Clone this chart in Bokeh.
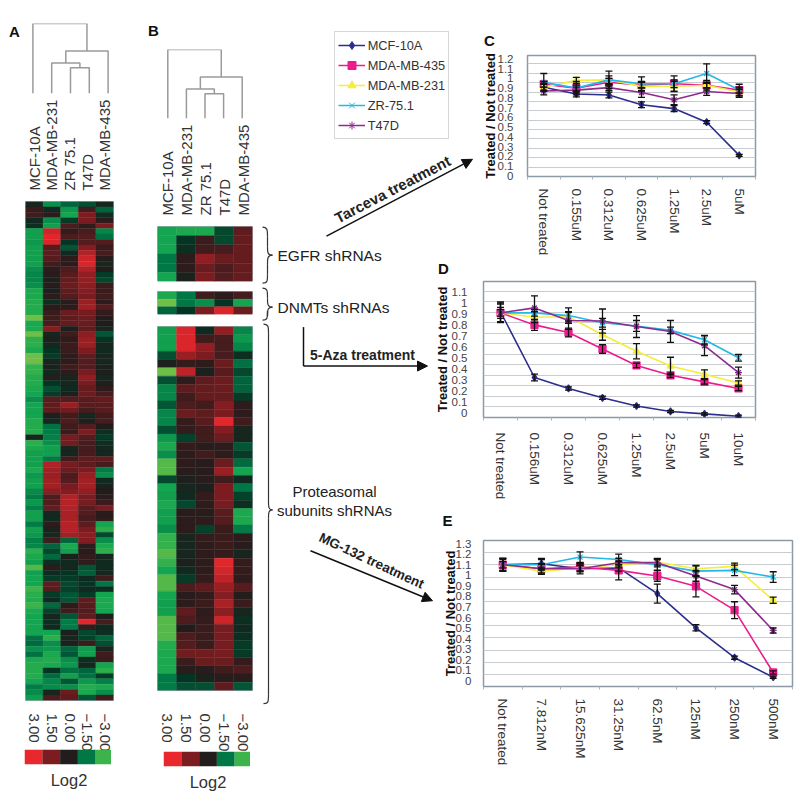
from bokeh.plotting import figure
from bokeh.models import (Column, Range1d, LinearAxis, FixedTicker, Grid, Whisker, TeeHead, Arrow, NormalHead,
                          ColumnDataSource, Legend, LegendItem, NumeralTickFormatter)
from bokeh.core.properties import value
from bokeh.embed import file_html
from bokeh.resources import INLINE

FONT = "Liberation Sans"
SAMPLES = ["MCF-10A", "MDA-MB-231", "ZR 75.1", "T47D", "MDA-MB-435"]
SCALE = ["3.00", "1.50", "0.00", "\u22121.50", "\u22123.00"]
SCALE_VALUES = [3, 1.5, 0, -1.5, -3]
LINKAGE_A = [26, 31, 43, 71]
LINKAGE_B = [25, 30, 42, 70]

HEAT_A = [
[-0.2,-2.0,-1.2,-0.9,-0.2],[0.4,-0.3,-2.2,0.5,-1.2],[0.5,0.1,-2.5,1.5,-0.4],[-0.3,-2.0,-0.6,1.5,0.2],
[-0.4,-2.4,0.7,0.2,1.5],[-2.4,2.6,0.3,0.6,-1.8],[-2.4,2.9,0.7,0.8,-1.4],[-2.2,2.8,-0.5,0.8,0.8],
[-2.4,0.8,-1.0,1.6,0.4],[-2.4,1.0,-0.3,2.2,0.6],[-2.4,0.9,0.2,2.6,0.1],[-2.4,0.5,0.1,2.8,-0.2],
[-2.0,0.2,0.7,2.2,0.0],[-1.8,0.1,0.9,1.8,-0.6],[-1.8,-0.1,1.1,1.8,-0.8],[-2.0,0.1,1.2,1.7,0.4],
[-2.6,-0.1,1.0,1.6,0.4],[-2.6,0.2,0.8,1.4,0.5],[-2.7,-0.4,0.1,1.9,0.2],[-2.7,0.1,0.2,2.0,0.8],
[-2.7,0.4,1.2,1.4,0.3],[-3.2,0.5,1.0,1.2,0.0],[-2.6,0.6,1.1,1.2,0.0],[-2.6,1.6,-0.1,1.0,-0.2],
[-3.2,-0.2,0.5,1.7,-1.0],[-2.8,-0.1,0.2,1.9,-0.5],[-2.8,-0.2,0.4,1.9,-0.2],[-2.6,-0.5,0.4,1.5,-0.3],
[-3.2,-0.6,0.2,1.0,-0.2],[-3.2,-0.2,0.2,0.8,-0.2],[-2.9,-0.1,0.5,0.8,-0.1],[-2.9,-0.3,0.2,1.4,-0.1],
[-2.7,0.1,-0.2,1.8,-0.2],[-2.7,-0.5,-0.2,1.4,-0.1],[-2.6,-0.9,-0.3,1.1,0.2],[-2.5,-0.6,-0.1,1.2,0.6],
[-2.0,0.9,0.8,0.9,1.1],[-2.5,1.0,1.9,0.9,0.9],[-2.5,1.0,1.3,0.6,0.9],[-2.5,-0.1,0.5,-0.2,0.5],
[-2.7,-0.2,0.7,-0.1,0.6],[-2.7,-1.4,0.5,0.8,0.0],[-2.7,-1.6,0.4,1.5,-0.4],[-0.2,-1.7,1.4,0.8,-0.6],
[-2.8,-2.0,1.3,0.6,-0.4],[-2.6,-2.4,-0.2,0.6,-0.2],[-2.4,-2.4,-0.2,0.6,-0.3],[-2.4,-1.5,0.5,1.0,1.0],
[-2.4,2.2,1.4,1.0,0.6],[-2.6,2.0,1.2,1.5,-1.6],[-2.2,1.9,0.7,1.9,-2.0],[-2.4,2.0,0.8,2.0,-0.3],
[-2.4,2.0,1.4,2.0,-0.1],[-1.9,1.7,1.6,1.8,0.0],[-1.6,0.7,2.2,1.4,0.1],[-2.2,0.8,2.3,1.4,0.4],
[-1.7,1.1,2.2,0.9,1.4],[-2.4,-0.2,2.1,0.8,0.1],[-2.4,-0.3,2.1,0.6,0.2],[-1.6,0.2,2.3,1.0,-2.5],
[-2.4,-0.1,2.3,1.5,-2.8],[-2.2,-0.2,2.0,1.7,-0.8],[-1.7,0.5,-1.2,1.6,-2.0],[-1.8,-1.2,-2.6,0.2,-2.6],
[-2.8,-0.8,-2.4,0.1,-2.8],[-2.6,-1.3,-0.1,0.3,-0.2],[-2.4,-0.4,-0.3,0.2,-0.3],[-3.1,0.2,-0.2,-1.0,-0.3],
[-2.4,-0.3,-0.5,-1.1,-0.2],[-2.5,-0.6,-0.6,-0.3,0.5],[-2.5,1.0,-0.8,-0.5,-1.5],[-3.0,0.8,-0.7,-0.3,-0.4],
[-2.8,-0.6,-1.0,-0.6,-2.5],[-2.7,-0.3,-1.0,1.0,-2.6],[-3.0,-1.3,0.2,0.9,-2.6],[-2.6,-0.7,0.5,0.8,-2.5],
[-2.5,-0.2,-1.0,1.0,-0.1],[-2.5,-0.4,-1.6,2.9,0.6],[-2.5,-0.3,-1.6,0.3,-0.3],[-2.5,-2.5,-0.1,-0.8,-0.4],
[-1.4,-2.8,-0.2,-0.7,-1.2],[-1.3,-2.0,-0.1,0.4,-0.9],[-2.0,-2.2,-1.2,-2.3,-0.2],[-1.4,-2.6,-1.0,-2.4,0.5],
[-2.6,-2.7,-2.0,-0.4,0.4],[-2.7,-2.6,-2.2,-0.2,-2.5],[-2.7,-0.5,-1.4,-1.2,-2.8],[-2.7,-1.3,-2.4,-1.4,-0.6],
[-2.5,-1.8,-1.0,-2.2,-1.7],[-1.6,-1.9,-2.0,-2.7,-2.6],[-1.9,-0.2,1.2,-2.6,-2.0],[-2.3,0.7,1.0,-1.0,0.5],
]
HEAT_B_EGFR = [
[-2.5,-2.6,-2.6,-0.8,1.0],[-2.5,-0.5,0.4,-0.8,1.1],[-2.5,-0.4,0.5,0.6,1.1],
[-1.5,0.2,1.8,1.2,1.1],[-1.5,0.2,1.2,0.7,1.1],[-2.5,-0.1,1.5,0.8,1.1],
]
HEAT_B_DNMT = [[-2.6,-1.5,0.5,0.2,0.6],[-3.2,-1.5,-2.0,-0.5,-2.5],[-1.2,-0.5,1.5,2.8,1.2]]
HEAT_B_PROT = [
[-2.4,2.8,-0.3,1.8,-1.8],[-2.4,2.8,0.5,0.6,-2.2],[-2.4,2.8,1.8,0.6,-1.8],[-0.9,1.9,1.5,0.6,-0.4],
[-0.1,0.3,0.2,1.2,-1.4],[-3.2,2.4,-0.1,0.9,-0.8],[-0.9,0.2,1.0,1.2,-1.2],[-1.8,1.0,1.1,1.2,-1.2],
[-1.8,0.5,1.1,1.1,-0.6],[-1.0,0.7,0.5,1.6,0.2],[-1.8,1.2,1.0,1.5,0.2],[-1.8,0.3,0.9,2.9,0.5],
[-0.9,0.3,0.5,1.6,-0.2],[-2.2,-0.7,0.5,1.2,-0.2],[-2.6,0.3,0.1,0.2,-1.0],[-2.0,0.2,0.5,0.2,-0.6],
[-3.1,0.2,0.1,1.2,-1.3],[-3.1,0.1,0.1,1.9,-2.5],[-0.8,-0.1,0.1,0.5,-0.3],[-2.5,-0.2,-0.1,1.5,-1.5],
[-2.4,-0.3,0.3,1.5,-0.7],[-2.6,-0.8,0.2,1.4,-0.4],[-2.4,0.1,0.1,0.9,-2.6],[-2.4,0.2,0.2,0.8,-2.6],
[-2.0,0.2,-0.7,0.4,-1.6],[-2.9,-0.2,0.3,0.4,0.2],[-2.9,-0.2,0.2,0.4,0.1],[-3.1,-0.2,0.2,0.3,-0.2],
[-2.9,-0.1,0.2,2.9,0.3],[-2.5,-0.3,0.2,2.7,0.3],[-3.1,-0.6,0.3,2.4,0.2],[-3.1,0.7,1.0,1.9,0.9],
[-2.5,0.1,0.3,1.6,0.05],[-2.4,0.2,0.4,2.1,0.4],[-2.4,1.0,0.2,1.7,-0.2],[-3.1,0.7,0.3,2.6,-0.4],
[-3.1,0.0,0.4,1.4,-0.3],[-3.1,0.7,0.4,1.4,-0.4],[-2.7,0.8,0.4,1.4,-0.6],[-2.6,1.3,1.3,1.4,-0.6],
[-2.6,0.4,1.2,1.2,0.3],[-2.6,0.1,0.1,0.5,0.7],[-1.6,-0.5,-0.1,0.1,0.1],[-1.6,-0.9,-0.9,1.0,-1.0],
]

SERIES = ["MCF-10A", "MDA-MB-435", "MDA-MB-231", "ZR-75.1", "T47D"]
COLORS = ["#2B2E8C", "#EC1C8E", "#F6EC3A", "#22B8E8", "#8E2C8E"]
MARKERS = ["diamond", "square", "triangle", "x", "asterisk"]

C_LABELS = ["Not treated", "0.155uM", "0.312uM", "0.625uM", "1.25uM", "2.5uM", "5uM"]
C_VALUES = [[.91,.84,.83,.73,.69,.55,.21],[.94,.90,.96,.93,.945,.93,.88],[.91,.98,.985,.92,.92,.93,.86],
            [.96,.90,.985,.945,.945,1.05,.88],[.87,.88,.905,.855,.78,.865,.845]]
C_ERRORS = [[.03,.03,.03,.03,.03,.015,.01],[.03,.03,.04,.03,.04,.03,.03],[.04,.03,.04,.05,.05,.05,.04],
            [.09,.07,.09,.07,.08,.10,.06],[.04,.03,.03,.05,.05,.04,.04]]
D_LABELS = ["Not treated", "0.156uM", "0.312uM", "0.625uM", "1.25uM", "2.5uM", "5uM", "10uM"]
D_VALUES = [[.92,.32,.22,.135,.06,.01,-.012,-.033],[.91,.80,.73,.58,.43,.34,.28,.22],[.91,.87,.875,.71,.56,.425,.35,.27],
            [.91,.91,.885,.82,.79,.75,.665,.50],[.91,.955,.84,.835,.785,.74,.61,.365]]
D_ERRORS = [[.09,.03,.015,.015,.01,.01,.01,.01],[.09,.05,.04,.04,.02,.02,.02,.02],[.05,.05,.04,.05,.07,.08,.04,.02],
            [.03,.03,.07,.04,.05,.03,.04,.03],[.08,.11,.08,.11,.10,.10,.09,.05]]
E_LABELS = ["Not treated", "7.812nM", "15.625nM", "31.25nM", "62.5nM", "125nM", "250nM", "500nM"]
E_VALUES = [[1.10,1.11,1.063,1.07,.827,.503,.22,.035],[1.10,1.063,1.08,1.047,.994,.896,.67,.08],
            [1.10,1.04,1.07,1.10,1.126,1.063,1.085,.764],[1.10,1.10,1.173,1.15,1.10,1.04,1.047,.984],
            [1.10,1.063,1.063,1.12,1.12,.994,.865,.478]]
E_ERRORS = [[.06,.05,.03,.03,.09,.03,.015,.01],[.06,.05,.04,.09,.05,.10,.08,.015],[.03,.03,.03,.03,.03,.03,.03,.03],
            [.06,.05,.05,.05,.05,.05,.05,.05],[.05,.04,.05,.04,.04,.05,.04,.025]]

ANCHORS = [(-3.3,(135,195,70)),(-3,(60,180,75)),(-2.5,(20,165,80)),(-1.5,(0,120,70)),(-0.5,(6,52,36)),
           (0,(34,28,28)),(1.5,(125,28,32)),(3,(232,40,45))]

def color(v):
    v = max(-3.3, min(3, v))
    for (a, ca), (b, cb) in zip(ANCHORS, ANCHORS[1:]):
        if v <= b:
            t = (v - a) / (b - a)
            return "#%02x%02x%02x" % tuple(round(x + (y - x) * t) for x, y in zip(ca, cb))

children = []
FLOW = 788
MIN_LEFT = 50
SHIFT = 60

def panel(l, t, r, b, bl=0, bt=0, br=0, bb=0, **kw):
    """A figure whose plot frame occupies the rectangle l,t,r,b in page-image coordinates."""
    bl = max(bl, MIN_LEFT)
    h = b - t + bt + bb
    w = r - l + bl + br
    y = t - bt
    x = l - bl + SHIFT
    m = (y - FLOW, 0, FLOW - (y + h), x) if children else (y, 0, 0, x)
    p = figure(width=w, height=h, frame_width=r - l, frame_height=b - t, output_backend="svg", toolbar_location=None,
               x_axis_location=None, y_axis_location=None, min_border=0, min_border_left=bl, min_border_top=bt,
               min_border_right=br, min_border_bottom=bb, margin=m,
               align="start", background_fill_alpha=0, border_fill_alpha=0, **kw)
    p.grid.visible = False
    p.outline_line_color = None
    children.append(p)
    return p

base = panel(8, 8, 792, 788, x_range=Range1d(8, 792), y_range=Range1d(788, 8))

def txt(x, y, s, size, bold=False, angle=0, align="left", col="#222222"):
    base.text([x], [y], text=[s], text_font=value(FONT), text_font_size=f"{size}px",
              text_font_style="bold" if bold else "normal", angle=[angle], angle_units="deg",
              text_align=align, text_baseline="middle", text_color=col)

for s, x, y in [("A", 14, 31), ("B", 153, 30), ("C", 489, 40), ("D", 443, 268), ("E", 447, 521)]:
    txt(x, y, s, 15, bold=True, align="center", col="#111111")

def brace(xl, xm, xt, y0, ym, y1):
    r = 9
    base.bezier(x0=[xl, xm, xt, xm], y0=[y0, ym - r, ym, y1 - r], x1=[xm, xt, xm, xl], y1=[y0 + r, ym, ym + r, y1],
                cx0=[xm, xm, xm, xm], cy0=[y0, ym - 3, ym, y1 - 2], cx1=[xm, xm, xm, xm], cy1=[y0 + 3, ym, ym + 3, y1],
                line_color="#333333", line_width=1.2)
    base.segment([xm, xm], [y0 + r, ym + r], [xm, xm], [ym - r, y1 - r], line_color="#333333", line_width=1.2)

brace(262, 267, 272, 227, 255, 283)
brace(262, 267, 272, 288, 307, 320)
brace(263, 268, 272, 324, 510, 704)
txt(277, 255, "EGFR shRNAs", 15.5)
txt(277, 307, "DNMTs   shRNAs", 15.5)
txt(334, 492, "Proteasomal", 15, align="center")
txt(334, 511, "subunits shRNAs", 15, align="center")
txt(392, 189, "Tarceva treatment", 15, bold=True, angle=27.5, align="center")
txt(362, 355, "5-Aza treatment", 14, bold=True, align="center")
txt(371, 561, "MG-132 treatment", 13.5, bold=True, angle=-25, align="center")

def arrow(x0, y0, x1, y1):
    base.add_layout(Arrow(end=NormalHead(size=10, fill_color="#111111", line_color="#111111"), x_start=x0, y_start=y0,
                          x_end=x1, y_end=y1, line_color="#111111", line_width=1.5))

arrow(326, 236, 472, 159)
base.line([303, 303], [327, 366], line_color="#111111", line_width=1.5)
arrow(303, 366, 427, 366)
arrow(310, 551, 432, 601)

items = []
for name, col, mk in zip(SERIES, COLORS, MARKERS):
    src = ColumnDataSource(dict(x=[0], y=[-100]))
    r1 = base.line("x", "y", source=src, line_color=col, line_width=1.5)
    r2 = base.scatter("x", "y", source=src, marker=mk, size=7, fill_color=col, line_color=col)
    items.append(LegendItem(label=name, renderers=[r1, r2]))
base.add_layout(Legend(items=items, location=(361, 648), orientation="vertical", glyph_width=27, glyph_height=20,
                       spacing=0, padding=3, margin=0, label_standoff=3, label_height=20,
                       label_text_font=FONT, label_text_font_size="12.8px", label_text_color="#333333",
                       border_line_color="#b0b0b0", border_line_width=1.5, background_fill_alpha=1))

def heat(rows, l, t, r, b, names=False, scale=False, bt=0, bb=0, standoff=7):
    n = len(rows)
    p = panel(l, t, r, b, bt=bt, bb=bb, br=12, x_range=Range1d(0.5, 5.5), y_range=Range1d(n - 0.5, -0.5))
    xs, ys, cs = [], [], []
    for i, row in enumerate(rows):
        for j, v in enumerate(row):
            xs.append(j + 1); ys.append(i); cs.append(color(v))
    p.rect(xs, ys, width=1, height=1, fill_color=cs, line_color=cs, line_width=0.4)
    p.outline_line_color = "#9aa0a8"
    p.outline_line_width = 0.8
    common = dict(axis_line_color=None, major_tick_line_color=None, minor_tick_line_color=None,
                  major_label_orientation="vertical", major_label_text_font=FONT, major_label_text_font_size="15px",
                  major_label_text_color="#333333", ticker=FixedTicker(ticks=[1, 2, 3, 4, 5]))
    if names:
        p.add_layout(LinearAxis(major_label_overrides=dict(zip([1, 2, 3, 4, 5], SAMPLES)), major_label_standoff=5, **common), "above")
    if scale:
        p.add_layout(LinearAxis(major_label_overrides=dict(zip([1, 2, 3, 4, 5], SCALE)), major_label_standoff=standoff, **common), "below")
    return p

heat(HEAT_A, 25, 202, 113, 702, names=True, scale=True, bt=110, bb=60)
heat(HEAT_B_EGFR, 157, 227, 252, 283, names=True, bt=110)
heat(HEAT_B_DNMT, 157, 292, 252, 316)
heat(HEAT_B_PROT, 157, 327, 252, 692, scale=True, bb=70, standoff=17)

def dendro(heights, l, t, r, b):
    p = panel(l, t, r, b, br=4, x_range=Range1d(0.5, 5.5), y_range=Range1d(0, heights[3]))
    h1, h2, h3, h4 = heights
    m1 = 3.5; m2 = (2 + m1) / 2; m3 = (m2 + 5) / 2
    p.multi_line([[3, 3, 4, 4], [2, 2, m1, m1], [m2, m2, 5, 5], [1, 1, m3, m3]],
                 [[0, h1, h1, 0], [0, h2, h2, h1], [h2, h3, h3, 0], [0, h4, h4, h3]],
                 line_color="#9a9a9a", line_width=1.5)

dendro(LINKAGE_A, 23, 24, 117, 95)
dendro(LINKAGE_B, 158, 50, 251, 120)

def colorbar(l, t, r, b):
    p = panel(l, t, r, b, bb=26, x_range=Range1d(0.5, 5.5), y_range=Range1d(0, 1))
    p.rect([1, 2, 3, 4, 5], 0.5, width=1, height=1, fill_color=[color(v) for v in SCALE_VALUES], line_color=None)
    ax = LinearAxis(ticker=FixedTicker(ticks=[]), axis_line_color=None, axis_label="Log2", axis_label_standoff=6,
                    axis_label_text_font=FONT, axis_label_text_font_size="16.5px", axis_label_text_font_style="normal",
                    axis_label_text_color="#333333")
    p.add_layout(ax, "below")

colorbar(24, 750, 113, 766)
colorbar(163, 751, 252, 767)

def chart(labels, values, errors, l, t, r, b, yr, gtop, ticks, bl, xoff, label_standoff, title_standoff):
    n = len(labels)
    p = panel(l, t, r, b, bl=bl, bt=12, bb=95, br=6, x_range=Range1d(0.5, n + 0.5), y_range=Range1d(*yr))
    p.extra_y_ranges = {"grid": Range1d(0, gtop)}
    p.add_layout(Grid(dimension=1, ticker=FixedTicker(ticks=[i / 10 for i in range(1, round(gtop * 10) + 1)]),
                      y_range_name="grid", grid_line_color="#c8ccd0", grid_line_width=1.2))
    p.outline_line_color = "#8d9aa6"
    p.outline_line_width = 1.5
    xs = list(range(1, n + 1))
    xa = LinearAxis(ticker=FixedTicker(ticks=xs, minor_ticks=[i + 0.5 for i in range(n + 1)]),
                    major_label_overrides=dict(zip(xs, labels)), major_label_orientation="vertical",
                    major_label_text_font=FONT, major_label_text_font_size="13.5px", major_label_text_color="#333333",
                    major_label_standoff=xoff, major_tick_line_color=None, minor_tick_line_color="#aab2ba",
                    minor_tick_in=0, minor_tick_out=3, axis_line_color=None)
    p.add_layout(xa, "below")
    ya = LinearAxis(ticker=FixedTicker(ticks=[i / 10 for i in range(ticks + 1)]), formatter=NumeralTickFormatter(format="0.[0]"),
                    major_tick_line_color=None, minor_tick_line_color=None, axis_line_color=None,
                    major_label_text_font=FONT, major_label_text_font_size="11.5px", major_label_text_color="#444444",
                    major_label_standoff=label_standoff, axis_label="Treated / Not treated", axis_label_standoff=title_standoff,
                    axis_label_text_font=FONT, axis_label_text_font_size="13px", axis_label_text_font_style="bold",
                    axis_label_text_color="#111111")
    p.add_layout(ya, "left")
    for vals, errs, col, mk in zip(values, errors, COLORS, MARKERS):
        src = ColumnDataSource(dict(x=xs, y=vals, lo=[v - e for v, e in zip(vals, errs)], hi=[v + e for v, e in zip(vals, errs)]))
        p.add_layout(Whisker(source=src, base="x", lower="lo", upper="hi", dimension="height", line_color="#111111", line_width=1.3,
                             upper_head=TeeHead(size=7, line_color="#111111", line_width=1.3),
                             lower_head=TeeHead(size=7, line_color="#111111", line_width=1.3), level="glyph"))
    for vals, col, mk in zip(values, COLORS, MARKERS):
        p.line(xs, vals, line_color=col, line_width=1.6)
        p.scatter(xs, vals, marker=mk, size=7, fill_color=col, line_color=col, line_width=1.3)

chart(C_LABELS, C_VALUES, C_ERRORS, 527, 55, 755, 177, (-0.007, 1.235), 1.29, 12, 50, 6, 8, -3)
chart(D_LABELS, D_VALUES, D_ERRORS, 483, 281, 755, 418, (-0.045, 1.196), 1.295, 11, 50, 9, 10, -1)
chart(E_LABELS, E_VALUES, E_ERRORS, 483, 540, 792, 687, (-0.053, 1.33), 1.2, 13, 44, 6, 6, -5)

layout = Column(children=children, width=858, height=FLOW, margin=(0, 0, 0, -SHIFT - 2))
open("out.html", "w").write(file_html(layout, INLINE))
